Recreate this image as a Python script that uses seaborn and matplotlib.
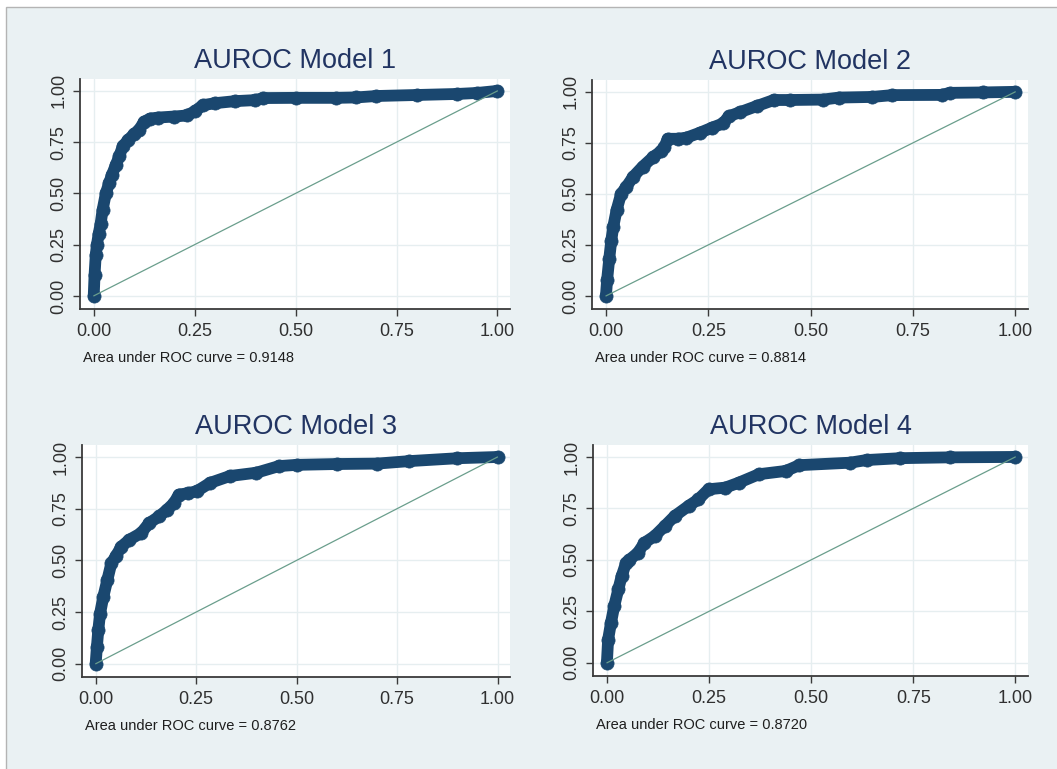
import matplotlib
matplotlib.use("Agg")
import matplotlib.pyplot as plt
from matplotlib.patches import Rectangle
import seaborn as sns
import pandas as pd

# ---- data ----
titles = ["AUROC Model 1", "AUROC Model 2", "AUROC Model 3", "AUROC Model 4"]
auc_labels = ["Area under ROC curve = 0.9148", "Area under ROC curve = 0.8814",
              "Area under ROC curve = 0.8762", "Area under ROC curve = 0.8720"]
tick_values = [0.0, 0.25, 0.5, 0.75, 1.0]
tick_labels = ["0.00", "0.25", "0.50", "0.75", "1.00"]

x1 = [0, 0.002, 0.005, 0.008, 0.012, 0.017, 0.022, 0.03, 0.038, 0.045, 0.055, 0.063, 0.072,
      0.085, 0.1, 0.112, 0.125, 0.14, 0.16, 0.2, 0.23, 0.25, 0.27, 0.3, 0.35, 0.4, 0.42, 0.5,
      0.6, 0.65, 0.7, 0.8, 0.9, 0.95, 1.0]
y1 = [0, 0.1, 0.2, 0.25, 0.3, 0.35, 0.42, 0.5, 0.55, 0.59, 0.64, 0.68, 0.73,
      0.76, 0.79, 0.81, 0.85, 0.865, 0.87, 0.875, 0.88, 0.9, 0.93, 0.94, 0.95, 0.955, 0.965, 0.966,
      0.966, 0.968, 0.975, 0.98, 0.985, 0.99, 1.0]

x2 = [0, 0.003, 0.008, 0.013, 0.018, 0.026, 0.037, 0.05, 0.067, 0.09, 0.115, 0.135, 0.143,
      0.151, 0.175, 0.196, 0.23, 0.26, 0.286, 0.3, 0.327, 0.368, 0.41, 0.45, 0.53, 0.57, 0.65,
      0.7, 0.82, 0.84, 0.92, 1.0]
y2 = [0, 0.08, 0.18, 0.27, 0.34, 0.42, 0.5, 0.535, 0.585, 0.634, 0.68, 0.71, 0.73,
      0.77, 0.77, 0.775, 0.8, 0.825, 0.845, 0.88, 0.9, 0.93, 0.96, 0.96, 0.962, 0.972, 0.975,
      0.984, 0.985, 0.995, 0.997, 1.0]

x3 = [0, 0.003, 0.0065, 0.011, 0.019, 0.029, 0.039, 0.05, 0.064, 0.084, 0.113, 0.133, 0.158,
      0.178, 0.195, 0.207, 0.23, 0.252, 0.285, 0.334, 0.4, 0.456, 0.5, 0.6, 0.7, 0.78, 0.9, 1.0]
y3 = [0, 0.08, 0.162, 0.243, 0.324, 0.405, 0.486, 0.52, 0.567, 0.6, 0.632, 0.68, 0.713,
      0.746, 0.778, 0.818, 0.825, 0.835, 0.875, 0.908, 0.924, 0.956, 0.962, 0.966, 0.968, 0.98,
      0.994, 1.0]

x4 = [0, 0.003, 0.01, 0.018, 0.028, 0.036, 0.047, 0.055, 0.076, 0.092, 0.117, 0.142, 0.166,
      0.2, 0.224, 0.249, 0.29, 0.323, 0.372, 0.438, 0.471, 0.595, 0.636, 0.718, 0.84, 1.0]
y4 = [0, 0.113, 0.194, 0.276, 0.357, 0.42, 0.486, 0.5, 0.535, 0.583, 0.616, 0.665, 0.713,
      0.762, 0.794, 0.843, 0.851, 0.875, 0.916, 0.932, 0.96, 0.972, 0.985, 0.994, 0.998, 1.0]

ref_x = [0, 1]
ref_y = [0, 1]

curves = [(x1, y1), (x2, y2), (x3, y3), (x4, y4)]

# ---- style ----
sns.set_theme(style="white")
plt.rcParams["font.family"] = ["Liberation Sans", "DejaVu Sans"]

W, H = 1057, 769
fig = plt.figure(figsize=(W / 100, H / 100), dpi=100, facecolor="white")

# outer graph region
fig.patches.append(Rectangle((6 / W, -0.02), 1.05, 1 - 7 / H + 0.02,
                             transform=fig.transFigure, facecolor="#EAF1F3",
                             edgecolor="#B4B4B4", linewidth=1.0, zorder=-10))

# axes boxes in pixels: (left, top, right, bottom)
boxes = [(80, 79, 510, 309), (592, 80, 1028, 309),
         (82, 445, 510, 677), (593, 445, 1028, 676)]

navy = "#1A476F"
refcol = "#6A9E8C"
axcol = "#3A3A3A"

for i, (l, t, r, b) in enumerate(boxes):
    ax = fig.add_axes([l / W, 1 - b / H, (r - l) / W, (b - t) / H])
    ax.set_zorder(1)
    ax.set_facecolor("white")
    xs, ys = curves[i]
    df = pd.DataFrame({"fpr": xs, "tpr": ys})
    sns.lineplot(data=df, x="fpr", y="tpr", ax=ax, sort=False, estimator=None,
                 color=navy, linewidth=8.5, marker="o", markersize=9.5,
                 markeredgecolor=navy, markerfacecolor=navy, markeredgewidth=0.5,
                 solid_capstyle="round", solid_joinstyle="round", zorder=3)
    sns.lineplot(x=ref_x, y=ref_y, ax=ax, sort=False, estimator=None,
                 color=refcol, linewidth=0.9, zorder=4)
    ax.set_xlim(-0.034, 1.031)
    ax.set_ylim(-0.064, 1.058)
    ax.set_xticks(tick_values)
    ax.set_xticklabels(tick_labels)
    ax.set_yticks(tick_values)
    ax.set_yticklabels(tick_labels)
    ax.set_xlabel("")
    ax.set_ylabel("")
    ax.grid(True, color="#E6EEF0", lw=1.0, zorder=0)
    ax.set_axisbelow(True)
    for s in ["top", "right"]:
        ax.spines[s].set_visible(False)
    for s in ["left", "bottom"]:
        ax.spines[s].set_color(axcol)
        ax.spines[s].set_linewidth(1.3)
    ax.tick_params(axis="both", which="major", direction="out", length=5,
                   width=1.0, color=axcol, labelsize=13, labelcolor="#303030",
                   bottom=True, left=True)
    ax.tick_params(axis="x", pad=5)
    ax.tick_params(axis="y", pad=4)
    for lab in ax.get_yticklabels():
        lab.set_rotation(90)
        lab.set_va("center")
    ax.set_title(titles[i], fontsize=19.5, color="#213462", pad=8)
    ax.text(3 / (r - l), -49 / (b - t), auc_labels[i], transform=ax.transAxes,
            fontsize=10.5, color="#1E1E1E", ha="left", va="center")

fig.savefig("out.png", dpi=100, facecolor="white")
